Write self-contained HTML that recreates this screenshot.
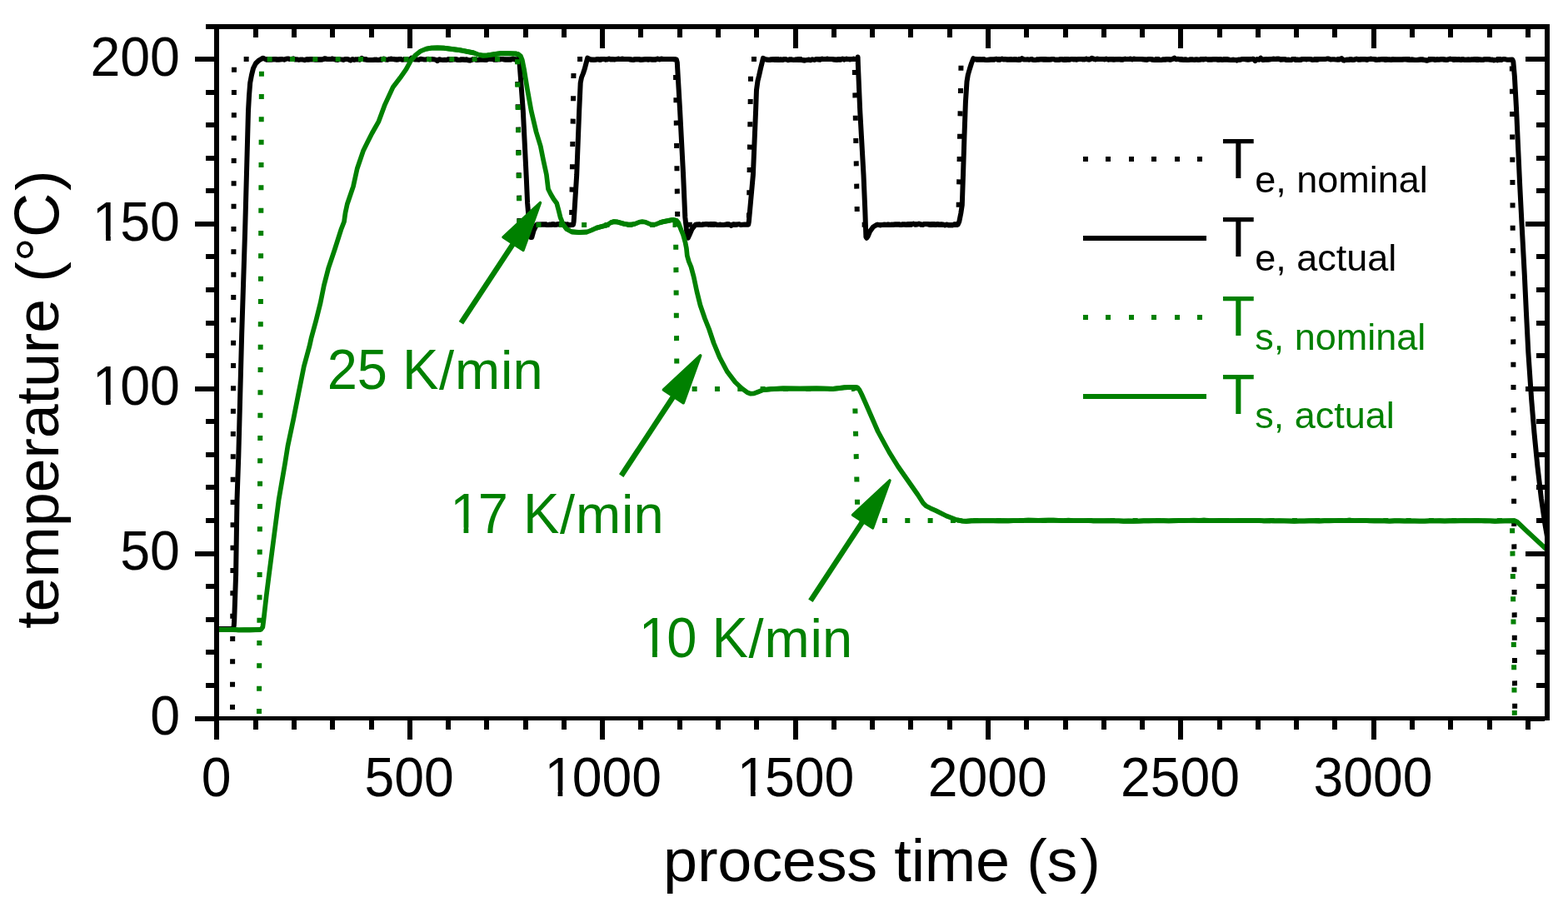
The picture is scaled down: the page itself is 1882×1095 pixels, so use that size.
<!DOCTYPE html>
<html lang="en">
<head>
<meta charset="utf-8">
<title>Temperature profile</title>
<style>
html,body{margin:0;padding:0;background:#ffffff;}
body{width:1882px;height:1095px;overflow:hidden;}
svg{display:block;}
</style>
</head>
<body>
<svg width="1882" height="1095" viewBox="0 0 1882 1095">
<rect x="0" y="0" width="1882" height="1095" fill="#ffffff"/>
<defs><clipPath id="c1_645"><path d="M-6,-77.40 H3000 V32.25 H36.17 V-6.62 H24.42 V3 H18.72 V-6.62 H-6 Z"/></clipPath><clipPath id="c1_643"><path d="M-6,-77.16 H3000 V32.15 H36.06 V-6.60 H24.35 V3 H18.67 V-6.60 H-6 Z"/></clipPath><clipPath id="c1_650"><path d="M-6,-78.00 H3000 V32.50 H36.45 V-6.66 H24.59 V3 H18.85 V-6.66 H-6 Z"/></clipPath></defs>
<defs><clipPath id="plot"><rect x="260.0" y="32.0" width="1597.0" height="830.5"/></clipPath></defs>
<g clip-path="url(#plot)" fill="none" stroke-linejoin="round" stroke-linecap="butt">
<polyline points="278.9,880.0 281.0,71.0 621.0,71.0 623.5,269.7 686.0,269.7 688.7,71.0 810.8,71.0 813.3,269.7 898.8,269.7 901.3,71.0 1025.6,71.0 1029.0,269.7 1150.3,269.7 1153.6,71.0 1814.8,71.0 1818.3,880.0" stroke="#000000" stroke-width="6" stroke-dasharray="6 21.333" stroke-dashoffset="26.67" stroke-linejoin="miter"/>
<polyline points="260.0,755.0 280.0,755.0 280.8,751.0 281.2,745.0 283.1,690.0 284.5,600.0 286.3,548.0 290.2,400.0 294.2,274.0 298.0,133.0 299.0,115.0 300.2,99.5 302.0,90.0 304.0,82.0 307.0,76.0 311.0,72.3 315.7,69.7 319.0,71.4 323.4,71.4 325.6,71.4 327.9,71.2 330.1,71.0 332.3,71.5 334.5,71.5 336.7,71.2 338.9,71.0 341.1,71.7 343.4,70.7 345.6,70.4 347.8,71.0 350.0,70.9 352.2,70.3 354.4,71.5 356.6,71.3 358.8,71.9 361.1,71.4 363.3,71.6 365.5,72.2 367.7,71.2 369.9,71.5 372.1,71.2 374.3,71.1 376.6,71.2 378.8,71.6 381.0,71.5 383.2,71.4 385.4,71.4 387.6,71.2 389.8,70.4 392.1,70.7 394.3,70.9 396.5,71.1 398.7,70.6 400.9,70.9 403.1,71.8 405.3,71.9 407.6,71.1 409.8,71.4 412.0,71.9 414.2,71.1 416.4,70.9 418.6,71.5 420.8,72.5 423.1,71.0 425.3,71.9 427.5,71.2 429.7,71.4 431.9,71.9 434.1,69.9 436.3,71.3 438.5,71.3 440.8,71.7 443.0,72.0 445.2,72.1 447.4,71.9 449.6,71.7 451.8,71.7 454.0,72.1 456.3,71.6 458.5,71.7 460.7,70.5 462.9,71.5 465.1,71.8 467.3,70.9 469.5,70.7 471.8,71.1 474.0,71.3 476.2,71.4 478.4,71.2 480.6,70.9 482.8,71.8 485.0,71.5 487.3,71.4 489.5,71.7 491.7,71.8 493.9,69.6 496.1,71.1 498.3,71.5 500.5,71.5 502.8,71.7 505.0,70.8 507.2,71.1 509.4,71.5 511.6,71.5 513.8,70.8 516.0,71.6 518.2,71.1 520.5,71.2 522.7,71.6 524.9,73.1 527.1,71.3 529.3,71.8 531.5,71.9 533.7,71.8 536.0,72.0 538.2,71.1 540.4,71.8 542.6,71.6 544.8,71.1 547.0,71.2 549.2,71.8 551.5,72.1 553.7,71.4 555.9,71.6 558.1,71.8 560.3,71.6 562.5,72.3 564.7,72.4 567.0,71.6 569.2,70.7 571.4,72.0 573.6,71.9 575.8,71.6 578.0,71.6 580.2,71.5 582.5,71.7 584.7,71.7 586.9,70.5 589.1,70.9 591.3,71.0 593.5,71.5 595.7,71.5 597.9,71.2 600.2,71.2 602.4,70.9 604.6,71.3 606.8,71.6 609.0,71.4 611.2,71.5 613.4,71.4 615.7,70.7 617.9,71.2 622.3,71.4 623.5,75.0 625.0,95.0 627.8,132.7 631.8,214.0 633.1,244.0 635.5,272.0 637.0,285.0 638.3,285.0 640.5,277.0 644.0,269.7 648.4,269.7 650.6,269.4 652.8,269.4 655.0,269.5 657.2,270.1 659.4,269.8 661.6,269.8 663.8,269.3 666.0,269.7 668.2,269.5 670.4,269.1 672.6,268.9 674.8,268.9 677.0,269.2 679.2,269.7 681.4,269.6 683.6,270.3 688.0,269.7 688.6,266.5 689.0,261.0 692.2,210.0 695.2,132.7 696.7,99.5 698.0,93.0 700.0,88.0 701.8,82.5 703.5,76.0 705.2,69.6 708.5,71.4 713.0,71.7 715.2,71.5 717.5,71.1 719.7,71.7 722.0,71.3 724.2,70.9 726.5,71.4 728.7,71.3 731.0,70.8 733.2,71.3 735.4,71.1 737.7,71.4 739.9,71.1 742.2,70.7 744.4,71.1 746.7,70.7 748.9,71.0 751.2,71.1 753.4,70.9 755.7,71.2 757.9,71.5 760.1,71.7 762.4,71.3 764.6,71.2 766.9,71.3 769.1,71.7 771.4,71.6 773.6,71.3 775.9,71.0 778.1,71.5 780.4,71.1 782.6,71.5 784.9,71.4 787.1,71.4 789.3,70.7 791.6,71.3 793.8,70.7 796.1,71.0 798.3,70.9 800.6,70.9 802.8,71.1 805.1,71.1 807.3,71.1 811.8,71.4 812.8,75.0 813.3,84.0 816.1,132.7 820.1,210.0 822.3,261.0 824.8,283.0 825.8,285.6 827.3,282.5 830.5,275.0 834.8,269.7 839.3,269.5 841.6,270.1 843.9,269.4 846.1,269.3 848.4,269.1 850.6,269.7 852.9,269.1 855.2,269.2 857.4,269.1 859.7,269.6 862.0,270.1 864.2,269.8 866.5,270.0 868.8,269.9 871.0,269.6 873.3,269.3 875.6,269.5 877.8,270.9 880.1,269.2 882.4,269.9 884.6,269.4 886.9,269.1 889.1,270.0 891.4,269.7 893.7,269.5 898.2,269.7 898.8,266.5 899.3,261.0 903.9,210.0 907.1,132.7 908.0,108.0 909.5,97.0 911.0,91.0 913.0,82.0 914.5,76.0 916.0,69.8 919.0,71.4 923.5,72.0 925.7,71.4 928.0,71.3 930.2,71.8 932.5,71.7 934.7,72.1 937.0,71.5 939.2,71.9 941.4,71.2 943.7,71.3 945.9,72.2 948.2,71.4 950.4,71.6 952.7,71.9 954.9,71.6 957.2,71.8 959.4,72.1 961.7,72.1 963.9,72.2 966.1,72.4 968.4,72.1 970.6,71.7 972.9,72.3 975.1,71.3 977.4,72.0 979.6,71.0 981.9,71.2 984.1,71.6 986.3,70.8 988.6,70.9 990.8,70.9 993.1,70.8 995.3,71.1 997.6,70.9 999.8,71.2 1002.1,71.6 1004.3,71.8 1006.6,71.3 1008.8,71.7 1011.0,70.6 1013.3,71.4 1015.5,70.8 1017.8,70.9 1020.0,71.3 1022.3,71.1 1024.5,70.8 1029.0,71.4 1029.6,68.5 1029.9,78.0 1032.2,132.7 1036.5,210.0 1038.3,252.5 1039.4,284.5 1040.2,285.8 1041.5,284.0 1044.0,278.0 1048.0,272.5 1052.5,269.7 1056.9,270.2 1059.1,269.9 1061.3,269.7 1063.5,270.1 1065.7,269.8 1067.9,270.0 1070.2,269.7 1072.4,269.7 1074.6,269.4 1076.8,269.6 1079.0,269.4 1081.2,270.1 1083.4,269.4 1085.6,269.5 1087.8,269.7 1090.0,269.3 1092.2,269.2 1094.4,269.1 1096.6,268.8 1098.8,269.6 1101.0,269.2 1103.3,268.8 1105.5,269.6 1107.7,269.7 1109.9,268.9 1112.1,269.0 1114.3,269.3 1116.5,269.8 1118.7,269.3 1120.9,269.2 1123.1,269.9 1125.3,269.2 1127.5,269.7 1129.7,269.5 1131.9,269.8 1134.2,270.3 1136.4,269.8 1138.6,270.3 1140.8,270.3 1143.0,270.3 1145.2,269.6 1149.6,269.7 1151.3,266.0 1153.3,256.0 1154.8,246.0 1156.1,207.0 1157.4,165.0 1158.9,123.0 1160.5,98.0 1161.8,90.0 1163.8,83.0 1166.0,76.0 1168.3,70.2 1171.5,71.4 1175.9,71.3 1178.1,71.4 1180.3,71.3 1182.5,71.7 1184.7,71.9 1186.9,71.7 1189.1,71.5 1191.3,71.6 1193.5,71.4 1195.7,70.8 1198.0,71.6 1200.2,71.7 1202.4,70.6 1204.6,71.3 1206.8,71.1 1209.0,71.6 1211.2,71.5 1213.4,71.3 1215.6,71.6 1217.8,71.2 1220.0,71.5 1222.2,71.9 1224.4,71.8 1226.6,70.1 1228.8,71.4 1231.0,71.6 1233.2,71.3 1235.4,71.8 1237.6,71.0 1239.8,71.6 1242.0,72.1 1244.2,71.6 1246.5,71.4 1248.7,71.3 1250.9,71.2 1253.1,71.6 1255.3,71.2 1257.5,71.6 1259.7,71.6 1261.9,71.3 1264.1,70.9 1266.3,71.8 1268.5,71.8 1270.7,71.8 1272.9,71.3 1275.1,71.3 1277.3,72.0 1279.5,71.7 1281.7,71.2 1283.9,71.7 1286.1,70.9 1288.3,71.2 1290.5,71.2 1292.7,71.4 1294.9,71.0 1297.2,70.9 1299.4,71.2 1301.6,71.3 1303.8,70.7 1306.0,71.2 1308.2,71.6 1310.4,69.7 1312.6,70.8 1314.8,71.3 1317.0,70.8 1319.2,70.9 1321.4,70.9 1323.6,71.1 1325.8,71.2 1328.0,70.8 1330.2,71.5 1332.4,71.1 1334.6,71.2 1336.8,71.5 1339.0,71.2 1341.2,71.2 1343.4,71.0 1345.7,71.5 1347.9,71.4 1350.1,70.8 1352.3,71.1 1354.5,71.0 1356.7,70.8 1358.9,71.2 1361.1,70.8 1363.3,70.9 1365.5,71.0 1367.7,70.9 1369.9,71.0 1372.1,71.3 1374.3,71.4 1376.5,71.7 1378.7,71.1 1380.9,71.1 1383.1,71.5 1385.3,71.9 1387.5,71.9 1389.7,71.8 1391.9,72.0 1394.1,71.9 1396.4,71.4 1398.6,71.5 1400.8,71.0 1403.0,71.2 1405.2,71.7 1407.4,70.9 1409.6,69.6 1411.8,71.3 1414.0,70.7 1416.2,71.6 1418.4,71.5 1420.6,71.8 1422.8,71.5 1425.0,72.0 1427.2,71.8 1429.4,71.4 1431.6,71.6 1433.8,71.7 1436.0,71.4 1438.2,71.7 1440.4,71.5 1442.6,71.1 1444.9,71.5 1447.1,70.7 1449.3,71.5 1451.5,71.5 1453.7,71.6 1455.9,71.2 1458.1,71.2 1460.3,71.3 1462.5,71.8 1464.7,71.3 1466.9,71.7 1469.1,71.6 1471.3,71.6 1473.5,71.5 1475.7,71.8 1477.9,71.9 1480.1,71.8 1482.3,71.9 1484.5,72.4 1486.7,71.7 1488.9,71.8 1491.1,70.9 1493.3,71.0 1495.6,71.3 1497.8,71.6 1500.0,71.2 1502.2,71.1 1504.4,70.7 1506.6,73.1 1508.8,71.0 1511.0,71.8 1513.2,69.7 1515.4,72.0 1517.6,71.5 1519.8,71.2 1522.0,71.5 1524.2,71.2 1526.4,71.0 1528.6,70.8 1530.8,71.0 1533.0,70.7 1535.2,70.8 1537.4,71.6 1539.6,71.2 1541.8,71.2 1544.1,71.9 1546.3,71.7 1548.5,71.9 1550.7,71.7 1552.9,70.9 1555.1,72.0 1557.3,71.6 1559.5,72.0 1561.7,71.5 1563.9,70.9 1566.1,71.0 1568.3,71.2 1570.5,70.9 1572.7,71.1 1574.9,71.7 1577.1,71.5 1579.3,71.2 1581.5,71.7 1583.7,70.9 1585.9,71.1 1588.1,71.0 1590.3,71.1 1592.6,70.6 1594.8,70.6 1597.0,71.5 1599.2,71.3 1601.4,71.3 1603.6,71.6 1605.8,71.8 1608.0,71.5 1610.2,70.1 1612.4,72.5 1614.6,72.0 1616.8,71.8 1619.0,71.8 1621.2,71.3 1623.4,71.7 1625.6,71.8 1627.8,70.7 1630.0,71.4 1632.2,71.5 1634.4,71.3 1636.6,71.0 1638.8,71.3 1641.0,71.7 1643.3,71.0 1645.5,70.8 1647.7,71.1 1649.9,71.2 1652.1,71.7 1654.3,71.6 1656.5,71.4 1658.7,71.1 1660.9,71.4 1663.1,71.9 1665.3,71.4 1667.5,71.5 1669.7,71.7 1671.9,71.2 1674.1,71.6 1676.3,71.4 1678.5,71.6 1680.7,71.4 1682.9,71.5 1685.1,71.2 1687.3,71.2 1689.5,71.5 1691.8,71.9 1694.0,71.6 1696.2,71.8 1698.4,72.0 1700.6,71.9 1702.8,71.7 1705.0,71.6 1707.2,71.5 1709.4,72.0 1711.6,72.4 1713.8,72.4 1716.0,71.6 1718.2,71.3 1720.4,71.2 1722.6,71.9 1724.8,71.3 1727.0,71.6 1729.2,71.3 1731.4,71.0 1733.6,71.6 1735.8,71.7 1738.0,71.5 1740.2,70.7 1742.5,71.1 1744.7,71.7 1746.9,71.2 1749.1,71.4 1751.3,71.3 1753.5,71.9 1755.7,71.2 1757.9,71.8 1760.1,71.7 1762.3,71.6 1764.5,71.7 1766.7,71.4 1768.9,71.6 1771.1,71.6 1773.3,72.0 1775.5,71.4 1777.7,71.8 1779.9,71.8 1782.1,71.2 1784.3,71.3 1786.5,71.2 1788.7,71.5 1791.0,71.7 1793.2,72.2 1795.4,71.9 1797.6,72.2 1799.8,71.5 1802.0,71.9 1804.2,71.0 1806.4,71.1 1808.6,71.7 1810.8,71.7 1815.2,71.4 1816.3,74.0 1817.9,92.0 1820.0,130.0 1821.9,172.5 1824.2,222.7 1826.8,274.0 1829.8,330.0 1831.8,372.5 1834.3,422.7 1838.2,480.0 1841.5,520.0 1845.4,560.0 1849.9,598.4 1854.5,630.0 1858.0,650.0" stroke="#000000" stroke-width="6.0"/>
<polyline points="260.0,755.0 280.0,755.0" stroke="#000000" stroke-width="6.0"/>
<polyline points="319.0,71.4 323.4,71.4 325.6,71.4 327.9,71.2 330.1,71.0 332.3,71.5 334.5,71.5 336.7,71.2 338.9,71.0" stroke="#000000" stroke-width="6.0"/>
<polyline points="367.7,71.2 369.9,71.5 372.1,71.2 374.3,71.1 376.6,71.2 378.8,71.6 381.0,71.5 383.2,71.4 385.4,71.4 387.6,71.2 389.8,70.4 392.1,70.7 394.3,70.9 396.5,71.1 398.7,70.6 400.9,70.9" stroke="#000000" stroke-width="6.0"/>
<polyline points="436.3,71.3 438.5,71.3 440.8,71.7 443.0,72.0 445.2,72.1 447.4,71.9 449.6,71.7 451.8,71.7 454.0,72.1 456.3,71.6 458.5,71.7" stroke="#000000" stroke-width="6.0"/>
<polyline points="467.3,70.9 469.5,70.7 471.8,71.1 474.0,71.3 476.2,71.4 478.4,71.2 480.6,70.9" stroke="#000000" stroke-width="6.0"/>
<polyline points="538.2,71.1 540.4,71.8 542.6,71.6 544.8,71.1 547.0,71.2 549.2,71.8 551.5,72.1 553.7,71.4 555.9,71.6 558.1,71.8 560.3,71.6 562.5,72.3 564.7,72.4" stroke="#000000" stroke-width="6.0"/>
<polyline points="571.4,72.0 573.6,71.9 575.8,71.6 578.0,71.6 580.2,71.5 582.5,71.7 584.7,71.7" stroke="#000000" stroke-width="6.0"/>
<polyline points="586.9,70.5 589.1,70.9 591.3,71.0 593.5,71.5 595.7,71.5 597.9,71.2 600.2,71.2 602.4,70.9 604.6,71.3 606.8,71.6 609.0,71.4 611.2,71.5 613.4,71.4 615.7,70.7 617.9,71.2 622.3,71.4" stroke="#000000" stroke-width="6.0"/>
<polyline points="644.0,269.7 648.4,269.7 650.6,269.4 652.8,269.4 655.0,269.5 657.2,270.1 659.4,269.8 661.6,269.8 663.8,269.3 666.0,269.7 668.2,269.5 670.4,269.1 672.6,268.9 674.8,268.9 677.0,269.2 679.2,269.7 681.4,269.6 683.6,270.3 688.0,269.7" stroke="#000000" stroke-width="6.0"/>
<polyline points="708.5,71.4 713.0,71.7 715.2,71.5 717.5,71.1 719.7,71.7 722.0,71.3 724.2,70.9 726.5,71.4 728.7,71.3 731.0,70.8 733.2,71.3 735.4,71.1 737.7,71.4 739.9,71.1 742.2,70.7 744.4,71.1 746.7,70.7 748.9,71.0 751.2,71.1 753.4,70.9 755.7,71.2 757.9,71.5 760.1,71.7 762.4,71.3 764.6,71.2 766.9,71.3 769.1,71.7 771.4,71.6 773.6,71.3 775.9,71.0 778.1,71.5 780.4,71.1 782.6,71.5 784.9,71.4 787.1,71.4 789.3,70.7 791.6,71.3 793.8,70.7 796.1,71.0 798.3,70.9 800.6,70.9 802.8,71.1 805.1,71.1 807.3,71.1 811.8,71.4" stroke="#000000" stroke-width="6.0"/>
<polyline points="834.8,269.7 839.3,269.5 841.6,270.1 843.9,269.4 846.1,269.3 848.4,269.1 850.6,269.7 852.9,269.1 855.2,269.2 857.4,269.1 859.7,269.6 862.0,270.1 864.2,269.8 866.5,270.0 868.8,269.9 871.0,269.6 873.3,269.3 875.6,269.5" stroke="#000000" stroke-width="6.0"/>
<polyline points="919.0,71.4 923.5,72.0 925.7,71.4 928.0,71.3 930.2,71.8 932.5,71.7 934.7,72.1 937.0,71.5 939.2,71.9 941.4,71.2 943.7,71.3" stroke="#000000" stroke-width="6.0"/>
<polyline points="945.9,72.2 948.2,71.4 950.4,71.6 952.7,71.9 954.9,71.6 957.2,71.8 959.4,72.1 961.7,72.1 963.9,72.2 966.1,72.4 968.4,72.1 970.6,71.7 972.9,72.3" stroke="#000000" stroke-width="6.0"/>
<polyline points="979.6,71.0 981.9,71.2 984.1,71.6 986.3,70.8 988.6,70.9 990.8,70.9 993.1,70.8 995.3,71.1 997.6,70.9 999.8,71.2 1002.1,71.6 1004.3,71.8 1006.6,71.3 1008.8,71.7" stroke="#000000" stroke-width="6.0"/>
<polyline points="1011.0,70.6 1013.3,71.4 1015.5,70.8 1017.8,70.9 1020.0,71.3 1022.3,71.1 1024.5,70.8 1029.0,71.4" stroke="#000000" stroke-width="6.0"/>
<polyline points="1052.5,269.7 1056.9,270.2 1059.1,269.9 1061.3,269.7 1063.5,270.1 1065.7,269.8 1067.9,270.0 1070.2,269.7 1072.4,269.7 1074.6,269.4 1076.8,269.6 1079.0,269.4 1081.2,270.1 1083.4,269.4 1085.6,269.5 1087.8,269.7 1090.0,269.3 1092.2,269.2 1094.4,269.1 1096.6,268.8 1098.8,269.6 1101.0,269.2 1103.3,268.8 1105.5,269.6 1107.7,269.7 1109.9,268.9 1112.1,269.0 1114.3,269.3 1116.5,269.8 1118.7,269.3 1120.9,269.2 1123.1,269.9 1125.3,269.2 1127.5,269.7 1129.7,269.5 1131.9,269.8 1134.2,270.3 1136.4,269.8 1138.6,270.3 1140.8,270.3 1143.0,270.3 1145.2,269.6 1149.6,269.7" stroke="#000000" stroke-width="6.0"/>
<polyline points="1171.5,71.4 1175.9,71.3 1178.1,71.4 1180.3,71.3 1182.5,71.7 1184.7,71.9 1186.9,71.7 1189.1,71.5 1191.3,71.6 1193.5,71.4 1195.7,70.8 1198.0,71.6 1200.2,71.7" stroke="#000000" stroke-width="6.0"/>
<polyline points="1202.4,70.6 1204.6,71.3 1206.8,71.1 1209.0,71.6 1211.2,71.5 1213.4,71.3 1215.6,71.6 1217.8,71.2 1220.0,71.5 1222.2,71.9 1224.4,71.8" stroke="#000000" stroke-width="6.0"/>
<polyline points="1237.6,71.0 1239.8,71.6 1242.0,72.1 1244.2,71.6 1246.5,71.4 1248.7,71.3 1250.9,71.2 1253.1,71.6 1255.3,71.2 1257.5,71.6 1259.7,71.6 1261.9,71.3 1264.1,70.9" stroke="#000000" stroke-width="6.0"/>
<polyline points="1266.3,71.8 1268.5,71.8 1270.7,71.8 1272.9,71.3 1275.1,71.3 1277.3,72.0 1279.5,71.7 1281.7,71.2 1283.9,71.7" stroke="#000000" stroke-width="6.0"/>
<polyline points="1286.1,70.9 1288.3,71.2 1290.5,71.2 1292.7,71.4 1294.9,71.0 1297.2,70.9 1299.4,71.2 1301.6,71.3 1303.8,70.7 1306.0,71.2 1308.2,71.6" stroke="#000000" stroke-width="6.0"/>
<polyline points="1312.6,70.8 1314.8,71.3 1317.0,70.8 1319.2,70.9 1321.4,70.9 1323.6,71.1 1325.8,71.2 1328.0,70.8 1330.2,71.5 1332.4,71.1 1334.6,71.2 1336.8,71.5 1339.0,71.2 1341.2,71.2 1343.4,71.0 1345.7,71.5 1347.9,71.4 1350.1,70.8 1352.3,71.1 1354.5,71.0 1356.7,70.8 1358.9,71.2 1361.1,70.8 1363.3,70.9 1365.5,71.0 1367.7,70.9 1369.9,71.0 1372.1,71.3 1374.3,71.4 1376.5,71.7 1378.7,71.1 1380.9,71.1 1383.1,71.5 1385.3,71.9 1387.5,71.9 1389.7,71.8 1391.9,72.0 1394.1,71.9 1396.4,71.4 1398.6,71.5 1400.8,71.0 1403.0,71.2 1405.2,71.7" stroke="#000000" stroke-width="6.0"/>
<polyline points="1416.2,71.6 1418.4,71.5 1420.6,71.8 1422.8,71.5 1425.0,72.0 1427.2,71.8 1429.4,71.4 1431.6,71.6 1433.8,71.7 1436.0,71.4 1438.2,71.7 1440.4,71.5 1442.6,71.1 1444.9,71.5" stroke="#000000" stroke-width="6.0"/>
<polyline points="1449.3,71.5 1451.5,71.5 1453.7,71.6 1455.9,71.2 1458.1,71.2 1460.3,71.3 1462.5,71.8 1464.7,71.3 1466.9,71.7 1469.1,71.6 1471.3,71.6 1473.5,71.5 1475.7,71.8 1477.9,71.9 1480.1,71.8 1482.3,71.9 1484.5,72.4 1486.7,71.7 1488.9,71.8" stroke="#000000" stroke-width="6.0"/>
<polyline points="1491.1,70.9 1493.3,71.0 1495.6,71.3 1497.8,71.6 1500.0,71.2 1502.2,71.1 1504.4,70.7" stroke="#000000" stroke-width="6.0"/>
<polyline points="1515.4,72.0 1517.6,71.5 1519.8,71.2 1522.0,71.5 1524.2,71.2 1526.4,71.0 1528.6,70.8 1530.8,71.0 1533.0,70.7 1535.2,70.8 1537.4,71.6 1539.6,71.2 1541.8,71.2 1544.1,71.9 1546.3,71.7 1548.5,71.9 1550.7,71.7" stroke="#000000" stroke-width="6.0"/>
<polyline points="1555.1,72.0 1557.3,71.6 1559.5,72.0 1561.7,71.5 1563.9,70.9 1566.1,71.0 1568.3,71.2 1570.5,70.9 1572.7,71.1 1574.9,71.7 1577.1,71.5 1579.3,71.2 1581.5,71.7" stroke="#000000" stroke-width="6.0"/>
<polyline points="1612.4,72.5 1614.6,72.0 1616.8,71.8 1619.0,71.8 1621.2,71.3 1623.4,71.7 1625.6,71.8" stroke="#000000" stroke-width="6.0"/>
<polyline points="1627.8,70.7 1630.0,71.4 1632.2,71.5 1634.4,71.3 1636.6,71.0 1638.8,71.3 1641.0,71.7 1643.3,71.0 1645.5,70.8 1647.7,71.1 1649.9,71.2 1652.1,71.7 1654.3,71.6 1656.5,71.4 1658.7,71.1 1660.9,71.4 1663.1,71.9 1665.3,71.4 1667.5,71.5 1669.7,71.7 1671.9,71.2 1674.1,71.6 1676.3,71.4 1678.5,71.6 1680.7,71.4 1682.9,71.5 1685.1,71.2 1687.3,71.2 1689.5,71.5 1691.8,71.9 1694.0,71.6 1696.2,71.8 1698.4,72.0 1700.6,71.9 1702.8,71.7 1705.0,71.6 1707.2,71.5 1709.4,72.0 1711.6,72.4 1713.8,72.4" stroke="#000000" stroke-width="6.0"/>
<polyline points="1716.0,71.6 1718.2,71.3 1720.4,71.2 1722.6,71.9 1724.8,71.3 1727.0,71.6 1729.2,71.3 1731.4,71.0 1733.6,71.6 1735.8,71.7 1738.0,71.5 1740.2,70.7 1742.5,71.1 1744.7,71.7 1746.9,71.2 1749.1,71.4 1751.3,71.3 1753.5,71.9 1755.7,71.2 1757.9,71.8 1760.1,71.7 1762.3,71.6 1764.5,71.7 1766.7,71.4 1768.9,71.6 1771.1,71.6 1773.3,72.0 1775.5,71.4 1777.7,71.8 1779.9,71.8 1782.1,71.2 1784.3,71.3 1786.5,71.2 1788.7,71.5 1791.0,71.7 1793.2,72.2 1795.4,71.9 1797.6,72.2 1799.8,71.5 1802.0,71.9" stroke="#000000" stroke-width="6.0"/>
<polyline points="310.9,880.0 314.0,71.0 621.0,71.0 623.5,270.0 811.0,270.0 812.5,467.0 1025.8,467.0 1029.5,625.0 1815.0,625.0 1818.1,880.0" stroke="#008000" stroke-width="6" stroke-dasharray="6 21.333" stroke-dashoffset="4.33" stroke-linejoin="miter"/>
<polyline points="260.0,756.0 273.2,756.0 279.9,756.0 286.5,756.4 293.1,756.3 299.8,756.3 313.0,756.0 315.3,753.0 316.5,744.0 319.7,715.5 322.9,690.0 334.6,600.0 342.2,555.8 345.4,535.6 352.1,503.8 358.4,471.9 364.8,440.0 371.4,415.8 373.5,406.3 379.3,385.0 384.6,363.8 388.9,342.5 394.4,321.3 401.6,300.0 409.3,275.8 413.0,266.3 414.5,255.6 416.8,245.0 424.0,223.8 428.7,202.5 435.9,181.3 441.2,170.6 446.5,160.0 454.5,145.8 462.0,125.6 471.8,104.4 480.0,93.8 487.5,83.1 493.3,72.5 499.0,66.0 505.0,61.3 511.0,58.8 517.8,57.6 525.0,57.4 532.6,57.7 552.8,60.3 568.8,63.5 575.0,65.8 579.4,66.7 585.0,66.4 592.0,65.3 600.7,64.2 610.0,64.2 619.0,64.5 622.5,65.3 625.0,67.5 626.8,72.0 628.9,82.5 633.1,108.0 637.6,133.0 643.6,158.5 648.8,175.5 652.2,192.5 655.9,209.5 658.0,227.0 661.0,233.0 664.5,239.0 668.2,244.0 670.5,252.5 672.6,261.0 675.9,269.5 680.0,275.0 686.0,278.3 695.0,279.0 704.8,278.5 710.0,276.3 715.5,273.8 722.0,272.0 728.3,270.4 733.0,267.3 736.8,266.1 741.0,266.5 749.5,268.9 754.0,269.6 758.0,269.7 762.0,268.8 767.0,266.8 770.8,266.1 775.0,266.8 780.0,269.0 783.5,269.7 787.0,269.3 792.0,267.3 796.3,266.1 802.0,265.0 806.0,264.2 809.5,264.0 812.3,265.0 814.3,267.5 817.5,276.0 820.0,282.0 822.5,291.0 823.9,298.0 824.8,307.0 826.8,314.0 829.5,320.5 832.7,332.5 836.3,349.5 840.5,366.5 846.1,382.7 851.0,395.0 856.7,412.0 863.7,429.0 872.7,446.0 882.4,458.8 890.0,466.0 897.0,471.3 901.0,472.7 905.0,472.4 910.0,470.5 916.0,468.1 925.0,467.2 933.0,466.8 940.0,466.4 960.0,466.6 980.0,466.4 1000.0,466.9 1006.0,466.2 1012.8,465.3 1020.0,465.0 1026.0,464.9 1029.5,465.6 1031.5,468.0 1034.0,473.0 1038.9,484.0 1046.3,501.0 1053.7,518.0 1062.9,535.0 1067.3,543.0 1077.8,560.0 1089.7,577.0 1101.6,594.0 1108.0,604.0 1111.5,607.5 1117.0,610.3 1123.3,613.1 1136.0,619.5 1148.8,624.4 1155.0,625.5 1159.8,625.8 1166.0,625.3 1180.0,625.2 1192.0,625.1 1198.1,625.3 1204.1,625.2 1210.1,625.3 1216.1,625.1 1222.2,625.1 1228.2,624.9 1234.2,624.7 1240.2,624.8 1246.2,624.9 1252.3,624.8 1258.3,624.7 1264.3,624.7 1270.3,624.9 1276.3,625.1 1282.4,624.8 1288.4,625.1 1294.4,625.1 1300.4,625.1 1306.5,625.0 1312.5,625.3 1318.5,625.3 1324.5,625.3 1330.5,625.1 1336.6,625.4 1342.6,625.4 1348.6,625.7 1354.6,625.5 1360.7,625.7 1366.7,625.6 1372.7,625.3 1378.7,625.3 1384.7,625.2 1390.8,625.1 1396.8,625.2 1402.8,625.4 1408.8,625.2 1414.8,625.0 1420.9,625.0 1426.9,624.9 1432.9,624.8 1438.9,625.0 1445.0,624.7 1451.0,625.0 1457.0,625.1 1463.0,625.0 1469.0,625.0 1475.1,625.1 1481.1,625.1 1487.1,625.0 1493.1,625.0 1499.2,625.0 1505.2,624.9 1511.2,625.0 1517.2,625.4 1523.2,625.2 1529.3,625.4 1535.3,625.3 1541.3,625.4 1547.3,625.5 1553.3,625.7 1559.4,625.5 1565.4,625.5 1571.4,625.3 1577.4,625.2 1583.5,625.5 1589.5,625.2 1595.5,625.2 1601.5,625.1 1607.5,625.0 1613.6,625.1 1619.6,624.7 1625.6,625.1 1631.6,625.0 1637.6,624.9 1643.7,625.2 1649.7,625.3 1655.7,625.3 1661.7,625.4 1667.8,625.6 1673.8,625.3 1679.8,625.3 1685.8,625.5 1691.8,625.5 1697.9,625.5 1703.9,625.6 1709.9,625.6 1715.9,625.4 1722.0,625.4 1728.0,625.3 1734.0,625.5 1740.0,625.3 1746.0,625.4 1752.1,625.2 1758.1,625.0 1764.1,625.2 1770.1,625.0 1776.1,625.2 1782.2,625.3 1788.2,625.4 1794.2,625.7 1800.2,625.5 1806.3,625.4 1818.3,625.2 1821.0,626.6 1832.5,637.6 1849.5,653.3 1858.0,661.3" stroke="#008000" stroke-width="5.7"/>
<polyline points="260.0,756.0 273.2,756.0 279.9,756.0 286.5,756.4 293.1,756.3 299.8,756.3 313.0,756.0" stroke="#008000" stroke-width="5.9"/>
<polyline points="511.0,58.8 517.8,57.6 525.0,57.4 532.6,57.7 552.8,60.3 568.8,63.5" stroke="#008000" stroke-width="5.9"/>
<polyline points="575.0,65.8 579.4,66.7 585.0,66.4 592.0,65.3 600.7,64.2 610.0,64.2 619.0,64.5 622.5,65.3" stroke="#008000" stroke-width="5.9"/>
<polyline points="686.0,278.3 695.0,279.0 704.8,278.5" stroke="#008000" stroke-width="5.9"/>
<polyline points="715.5,273.8 722.0,272.0 728.3,270.4" stroke="#008000" stroke-width="5.9"/>
<polyline points="733.0,267.3 736.8,266.1 741.0,266.5 749.5,268.9 754.0,269.6 758.0,269.7 762.0,268.8" stroke="#008000" stroke-width="5.9"/>
<polyline points="792.0,267.3 796.3,266.1 802.0,265.0 806.0,264.2 809.5,264.0" stroke="#008000" stroke-width="5.9"/>
<polyline points="916.0,468.1 925.0,467.2 933.0,466.8 940.0,466.4 960.0,466.6 980.0,466.4 1000.0,466.9 1006.0,466.2 1012.8,465.3 1020.0,465.0 1026.0,464.9 1029.5,465.6" stroke="#008000" stroke-width="5.9"/>
<polyline points="1148.8,624.4 1155.0,625.5 1159.8,625.8 1166.0,625.3 1180.0,625.2 1192.0,625.1 1198.1,625.3 1204.1,625.2 1210.1,625.3 1216.1,625.1 1222.2,625.1 1228.2,624.9 1234.2,624.7 1240.2,624.8 1246.2,624.9 1252.3,624.8 1258.3,624.7 1264.3,624.7 1270.3,624.9 1276.3,625.1 1282.4,624.8 1288.4,625.1 1294.4,625.1 1300.4,625.1 1306.5,625.0 1312.5,625.3 1318.5,625.3 1324.5,625.3 1330.5,625.1 1336.6,625.4 1342.6,625.4 1348.6,625.7 1354.6,625.5 1360.7,625.7 1366.7,625.6 1372.7,625.3 1378.7,625.3 1384.7,625.2 1390.8,625.1 1396.8,625.2 1402.8,625.4 1408.8,625.2 1414.8,625.0 1420.9,625.0 1426.9,624.9 1432.9,624.8 1438.9,625.0 1445.0,624.7 1451.0,625.0 1457.0,625.1 1463.0,625.0 1469.0,625.0 1475.1,625.1 1481.1,625.1 1487.1,625.0 1493.1,625.0 1499.2,625.0 1505.2,624.9 1511.2,625.0 1517.2,625.4 1523.2,625.2 1529.3,625.4 1535.3,625.3 1541.3,625.4 1547.3,625.5 1553.3,625.7 1559.4,625.5 1565.4,625.5 1571.4,625.3 1577.4,625.2 1583.5,625.5 1589.5,625.2 1595.5,625.2 1601.5,625.1 1607.5,625.0 1613.6,625.1 1619.6,624.7 1625.6,625.1 1631.6,625.0 1637.6,624.9 1643.7,625.2 1649.7,625.3 1655.7,625.3 1661.7,625.4 1667.8,625.6 1673.8,625.3 1679.8,625.3 1685.8,625.5 1691.8,625.5 1697.9,625.5 1703.9,625.6 1709.9,625.6 1715.9,625.4 1722.0,625.4 1728.0,625.3 1734.0,625.5 1740.0,625.3 1746.0,625.4 1752.1,625.2 1758.1,625.0 1764.1,625.2 1770.1,625.0 1776.1,625.2 1782.2,625.3 1788.2,625.4 1794.2,625.7 1800.2,625.5 1806.3,625.4 1818.3,625.2" stroke="#008000" stroke-width="5.9"/>
</g>
<g fill="#000000" shape-rendering="crispEdges">
<rect x="257" y="29" width="1603" height="6"/>
<rect x="257" y="860" width="1603" height="5"/>
<rect x="257" y="29" width="6" height="836"/>
<rect x="1854" y="29" width="6" height="836"/>
<rect x="257" y="865" width="6" height="23"/>
<rect x="257" y="35" width="6" height="23"/>
<rect x="304" y="865" width="6" height="11"/>
<rect x="304" y="35" width="6" height="10"/>
<rect x="350" y="865" width="6" height="11"/>
<rect x="350" y="35" width="6" height="10"/>
<rect x="396" y="865" width="6" height="11"/>
<rect x="396" y="35" width="6" height="10"/>
<rect x="443" y="865" width="6" height="11"/>
<rect x="443" y="35" width="6" height="10"/>
<rect x="489" y="865" width="6" height="23"/>
<rect x="489" y="35" width="6" height="23"/>
<rect x="535" y="865" width="6" height="11"/>
<rect x="535" y="35" width="6" height="10"/>
<rect x="581" y="865" width="6" height="11"/>
<rect x="581" y="35" width="6" height="10"/>
<rect x="628" y="865" width="6" height="11"/>
<rect x="628" y="35" width="6" height="10"/>
<rect x="674" y="865" width="6" height="11"/>
<rect x="674" y="35" width="6" height="10"/>
<rect x="720" y="865" width="6" height="23"/>
<rect x="720" y="35" width="6" height="23"/>
<rect x="766" y="865" width="6" height="11"/>
<rect x="766" y="35" width="6" height="10"/>
<rect x="813" y="865" width="6" height="11"/>
<rect x="813" y="35" width="6" height="10"/>
<rect x="859" y="865" width="6" height="11"/>
<rect x="859" y="35" width="6" height="10"/>
<rect x="905" y="865" width="6" height="11"/>
<rect x="905" y="35" width="6" height="10"/>
<rect x="952" y="865" width="6" height="23"/>
<rect x="952" y="35" width="6" height="23"/>
<rect x="998" y="865" width="6" height="11"/>
<rect x="998" y="35" width="6" height="10"/>
<rect x="1044" y="865" width="6" height="11"/>
<rect x="1044" y="35" width="6" height="10"/>
<rect x="1090" y="865" width="6" height="11"/>
<rect x="1090" y="35" width="6" height="10"/>
<rect x="1137" y="865" width="6" height="11"/>
<rect x="1137" y="35" width="6" height="10"/>
<rect x="1183" y="865" width="6" height="23"/>
<rect x="1183" y="35" width="6" height="23"/>
<rect x="1229" y="865" width="6" height="11"/>
<rect x="1229" y="35" width="6" height="10"/>
<rect x="1276" y="865" width="6" height="11"/>
<rect x="1276" y="35" width="6" height="10"/>
<rect x="1322" y="865" width="6" height="11"/>
<rect x="1322" y="35" width="6" height="10"/>
<rect x="1368" y="865" width="6" height="11"/>
<rect x="1368" y="35" width="6" height="10"/>
<rect x="1414" y="865" width="6" height="23"/>
<rect x="1414" y="35" width="6" height="23"/>
<rect x="1461" y="865" width="6" height="11"/>
<rect x="1461" y="35" width="6" height="10"/>
<rect x="1507" y="865" width="6" height="11"/>
<rect x="1507" y="35" width="6" height="10"/>
<rect x="1553" y="865" width="6" height="11"/>
<rect x="1553" y="35" width="6" height="10"/>
<rect x="1599" y="865" width="6" height="11"/>
<rect x="1599" y="35" width="6" height="10"/>
<rect x="1646" y="865" width="6" height="23"/>
<rect x="1646" y="35" width="6" height="23"/>
<rect x="1692" y="865" width="6" height="11"/>
<rect x="1692" y="35" width="6" height="10"/>
<rect x="1738" y="865" width="6" height="11"/>
<rect x="1738" y="35" width="6" height="10"/>
<rect x="1785" y="865" width="6" height="11"/>
<rect x="1785" y="35" width="6" height="10"/>
<rect x="1831" y="865" width="6" height="11"/>
<rect x="1831" y="35" width="6" height="10"/>
<rect x="234" y="860" width="23" height="6"/>
<rect x="1831" y="860" width="23" height="6"/>
<rect x="247" y="820" width="10" height="6"/>
<rect x="1844" y="820" width="10" height="6"/>
<rect x="247" y="780" width="10" height="6"/>
<rect x="1844" y="780" width="10" height="6"/>
<rect x="247" y="741" width="10" height="6"/>
<rect x="1844" y="741" width="10" height="6"/>
<rect x="247" y="701" width="10" height="6"/>
<rect x="1844" y="701" width="10" height="6"/>
<rect x="234" y="662" width="23" height="6"/>
<rect x="1831" y="662" width="23" height="6"/>
<rect x="247" y="622" width="10" height="6"/>
<rect x="1844" y="622" width="10" height="6"/>
<rect x="247" y="582" width="10" height="6"/>
<rect x="1844" y="582" width="10" height="6"/>
<rect x="247" y="543" width="10" height="6"/>
<rect x="1844" y="543" width="10" height="6"/>
<rect x="247" y="503" width="10" height="6"/>
<rect x="1844" y="503" width="10" height="6"/>
<rect x="234" y="464" width="23" height="6"/>
<rect x="1831" y="464" width="23" height="6"/>
<rect x="247" y="424" width="10" height="6"/>
<rect x="1844" y="424" width="10" height="6"/>
<rect x="247" y="385" width="10" height="6"/>
<rect x="1844" y="385" width="10" height="6"/>
<rect x="247" y="345" width="10" height="6"/>
<rect x="1844" y="345" width="10" height="6"/>
<rect x="247" y="305" width="10" height="6"/>
<rect x="1844" y="305" width="10" height="6"/>
<rect x="234" y="266" width="23" height="6"/>
<rect x="1831" y="266" width="23" height="6"/>
<rect x="247" y="226" width="10" height="6"/>
<rect x="1844" y="226" width="10" height="6"/>
<rect x="247" y="187" width="10" height="6"/>
<rect x="1844" y="187" width="10" height="6"/>
<rect x="247" y="147" width="10" height="6"/>
<rect x="1844" y="147" width="10" height="6"/>
<rect x="247" y="108" width="10" height="6"/>
<rect x="1844" y="108" width="10" height="6"/>
<rect x="234" y="68" width="23" height="6"/>
<rect x="1831" y="68" width="23" height="6"/>
<rect x="247" y="29" width="10" height="6"/>
</g>
<g font-family="'Liberation Sans', Arial, Helvetica, sans-serif" style="font-kerning:none">
<text transform="translate(180.13,882.20) scale(1,1.045)" font-size="64.5" fill="#000000">0</text>
<text transform="translate(144.26,684.33) scale(1,1.045)" font-size="64.5" fill="#000000">50</text>
<text transform="translate(108.38,486.45) scale(1,1.045)" font-size="64.5" fill="#000000" clip-path="url(#c1_645)"><tspan dx="2.50">1</tspan><tspan dx="-2.50">00</tspan></text>
<text transform="translate(108.38,288.57) scale(1,1.045)" font-size="64.5" fill="#000000" clip-path="url(#c1_645)"><tspan dx="2.50">1</tspan><tspan dx="-2.50">50</tspan></text>
<text transform="translate(108.38,90.70) scale(1,1.045)" font-size="64.5" fill="#000000">200</text>
<text transform="translate(241.82,955.60) scale(1,1.045)" font-size="64.3" fill="#000000">0</text>
<text transform="translate(437.43,955.60) scale(1,1.045)" font-size="64.3" fill="#000000">500</text>
<text transform="translate(650.93,955.60) scale(1,1.045)" font-size="64.3" fill="#000000" clip-path="url(#c1_643)"><tspan dx="2.50">1</tspan><tspan dx="-2.50">000</tspan></text>
<text transform="translate(882.30,955.60) scale(1,1.045)" font-size="64.3" fill="#000000" clip-path="url(#c1_643)"><tspan dx="2.50">1</tspan><tspan dx="-2.50">500</tspan></text>
<text transform="translate(1113.68,955.60) scale(1,1.045)" font-size="64.3" fill="#000000">2000</text>
<text transform="translate(1345.05,955.60) scale(1,1.045)" font-size="64.3" fill="#000000">2500</text>
<text transform="translate(1576.43,955.60) scale(1,1.045)" font-size="64.3" fill="#000000">3000</text>
<text transform="translate(796.10,1057.70) scale(1,0.985)" font-size="73.8" fill="#000000"><tspan letter-spacing="-0.20">process time (s</tspan><tspan dx="3.00">)</tspan></text>
<text transform="translate(70.30,754.68) rotate(-90) translate(0.00,0) scale(1,0.985)" font-size="73.8" fill="#000000"><tspan letter-spacing="-0.20">temperature (°</tspan><tspan font-size="77.92" textLength="53.30" lengthAdjust="spacingAndGlyphs">C</tspan><tspan dx="2.80">)</tspan></text>
<text transform="translate(1466.60,213.90) scale(1,1.040)" font-size="65" fill="#000000">T<tspan dx="-0.10" dy="16.25" font-size="42.62" textLength="207.62" lengthAdjust="spacingAndGlyphs">e, nominal</tspan></text>
<text transform="translate(1466.60,308.40) scale(1,1.040)" font-size="65" fill="#000000">T<tspan dx="-0.10" dy="16.25" font-size="42.62" textLength="170.11" lengthAdjust="spacingAndGlyphs">e, actual</tspan></text>
<text transform="translate(1466.60,402.90) scale(1,1.040)" font-size="65" fill="#008000">T<tspan dx="-0.10" dy="16.25" font-size="42.62" textLength="205.09" lengthAdjust="spacingAndGlyphs">s, nominal</tspan></text>
<text transform="translate(1466.60,497.40) scale(1,1.040)" font-size="65" fill="#008000">T<tspan dx="-0.10" dy="16.25" font-size="42.62" textLength="167.59" lengthAdjust="spacingAndGlyphs">s, actual</tspan></text>
<text transform="translate(392.70,467.00) scale(1,1.040)" font-size="65" fill="#008000">25 K<tspan dx="0.50" font-size="61.56" textLength="18.06" lengthAdjust="spacingAndGlyphs">/</tspan><tspan dx="1.00" font-size="61.56" textLength="54.15" lengthAdjust="spacingAndGlyphs">m</tspan><tspan dx="1.00" font-size="61.56" textLength="50.59" lengthAdjust="spacingAndGlyphs">in</tspan></text>
<text transform="translate(537.70,640.40) scale(1,1.040)" font-size="65" fill="#008000" clip-path="url(#c1_650)"><tspan dx="2.50">1</tspan><tspan dx="-2.50">7 K</tspan><tspan dx="0.50" font-size="61.56" textLength="18.06" lengthAdjust="spacingAndGlyphs">/</tspan><tspan dx="1.00" font-size="61.56" textLength="54.15" lengthAdjust="spacingAndGlyphs">m</tspan><tspan dx="1.00" font-size="61.56" textLength="50.59" lengthAdjust="spacingAndGlyphs">in</tspan></text>
<text transform="translate(764.20,789.10) scale(1,1.040)" font-size="65" fill="#008000" clip-path="url(#c1_650)"><tspan dx="2.50">1</tspan><tspan dx="-2.50">0 K</tspan><tspan dx="0.50" font-size="61.56" textLength="18.06" lengthAdjust="spacingAndGlyphs">/</tspan><tspan dx="1.00" font-size="61.56" textLength="54.15" lengthAdjust="spacingAndGlyphs">m</tspan><tspan dx="1.00" font-size="61.56" textLength="50.59" lengthAdjust="spacingAndGlyphs">in</tspan></text>
</g>
<g fill="none" stroke-width="6" shape-rendering="crispEdges">
<line x1="1300" y1="191" x2="1447.5" y2="191" stroke="#000000" stroke-dasharray="6 21.4"/>
<line x1="1300" y1="286" x2="1447.5" y2="286" stroke="#000000"/>
<line x1="1300" y1="381" x2="1447.5" y2="381" stroke="#008000" stroke-dasharray="6 21.4"/>
<line x1="1300" y1="476" x2="1447.5" y2="476" stroke="#008000"/>
</g>
<line x1="553.4" y1="387.7" x2="617.2" y2="290.7" stroke="#008000" stroke-width="6.5"/>
<polygon points="648.4,243.5 627.9,300.3 604.1,284.7" fill="#008000" stroke="#008000" stroke-width="3.6" stroke-linejoin="round"/>
<line x1="745.7" y1="571.1" x2="809.5" y2="474.1" stroke="#008000" stroke-width="6.5"/>
<polygon points="840.7,426.9 820.2,483.7 796.4,468.1" fill="#008000" stroke="#008000" stroke-width="3.6" stroke-linejoin="round"/>
<line x1="972.9" y1="721.2" x2="1036.7" y2="624.2" stroke="#008000" stroke-width="6.5"/>
<polygon points="1067.9,577.0 1047.4,633.8 1023.6,618.2" fill="#008000" stroke="#008000" stroke-width="3.6" stroke-linejoin="round"/>
</svg>
</body>
</html>
